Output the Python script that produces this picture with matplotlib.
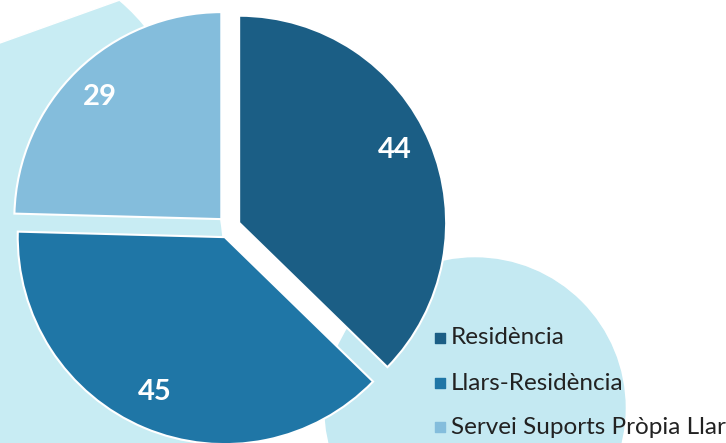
import matplotlib.pyplot as plt
from matplotlib.patches import Ellipse, Circle, Polygon

labels = ["Residència", "Llars-Residència", "Servei Suports Pròpia Llar"]
values = [44, 45, 29]
colors = ["#1b5e85", "#1f76a6", "#84bddc"]

fig = plt.figure(figsize=(7.26, 4.43), dpi=100)
ax = fig.add_axes([0, 0, 1, 1])

# fons: taques blau cel
ax.add_patch(Ellipse((40, 143), 370, 660, color="#c8ecf3", zorder=0))
ax.add_patch(Polygon([(0, 443), (0, 400), (120, 443)], closed=True,
                     color="white", zorder=1))
ax.add_patch(Circle((475, 35), 150, color="#c4e9f2", zorder=0))

wedges, texts = ax.pie(values, colors=colors, startangle=90, counterclock=False,
                       center=(229, 216), radius=207, explode=[11, 11, 11],
                       wedgeprops=dict(edgecolor="white", linewidth=1.5))
for w in wedges:
    w.set_zorder(2)

# etiquetes de valors
pos = [(395, 293), (155, 51), (100, 346)]
for (x, y), v in zip(pos, values):
    ax.text(x, y, str(v), color="white", fontsize=21, fontweight="bold",
            family="Lato", ha="center", va="center", zorder=3)

# llegenda
rows = [105, 60, 16]
for lab, c, y in zip(labels, colors, rows):
    ax.scatter([440], [y], marker="s", s=55, color=c, zorder=3)
    ax.text(451, y, lab, fontsize=17.5, family="Lato", color="#222222",
            va="center", ha="left", zorder=3)

ax.set_xlim(0, 726)
ax.set_ylim(0, 443)
ax.set_aspect("auto")
ax.axis("off")

fig.savefig("out.png", dpi=100)
